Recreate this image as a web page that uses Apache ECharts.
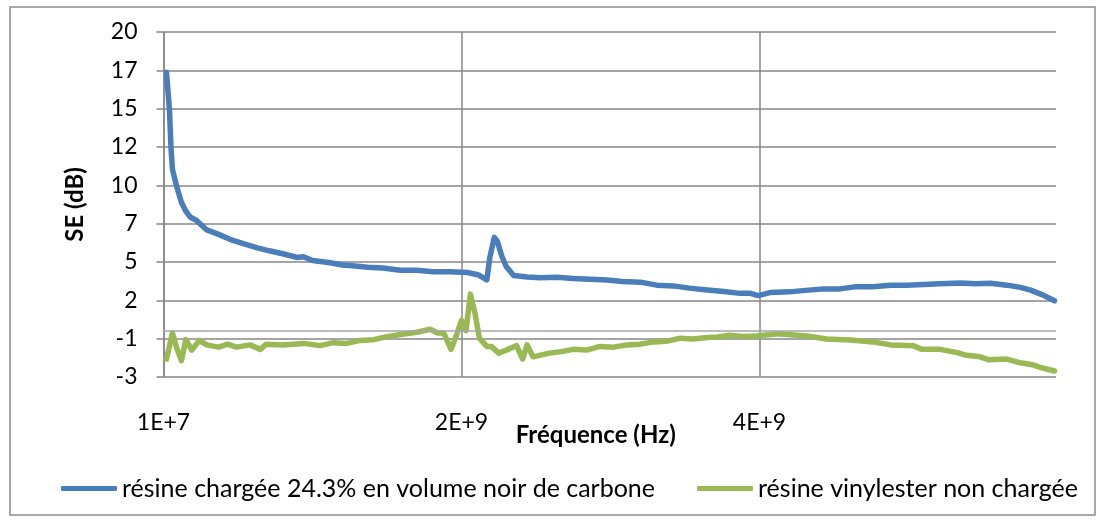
<!DOCTYPE html>
<html>
<head>
<meta charset="utf-8">
<script src="https://cdn.jsdelivr.net/npm/echarts@6/dist/echarts.min.js"></script>
<style>
  html, body { margin: 0; padding: 0; background: #fff; }
  #chart { width: 1105px; height: 523px; }
</style>
</head>
<body>
<div id="chart"></div>
<script>
// frequencies in GHz, SE in dB
var blueGHz = [0.03, 0.05, 0.06, 0.07, 0.10, 0.13, 0.16, 0.19, 0.23, 0.30, 0.38, 0.46, 0.54, 0.64, 0.72, 0.81,
  0.91, 0.95, 1.01, 1.13, 1.21, 1.28, 1.38, 1.48, 1.60, 1.71, 1.82, 1.93, 2.05, 2.12, 2.18, 2.20, 2.23, 2.25,
  2.28, 2.31, 2.36, 2.45, 2.54, 2.65, 2.76, 2.87, 2.99, 3.09, 3.21, 3.32, 3.43, 3.54, 3.66, 3.77, 3.88, 3.95,
  4.00, 4.08, 4.21, 4.32, 4.44, 4.55, 4.66, 4.77, 4.89, 5.00, 5.11, 5.22, 5.36, 5.46, 5.56, 5.67, 5.76, 5.83,
  5.91, 5.99];
var blueSE = [17.3, 14.8, 12.3, 10.8, 9.6, 8.6, 8.0, 7.6, 7.4, 6.75, 6.45, 6.1, 5.85, 5.55, 5.35, 5.15,
  4.9, 4.95, 4.7, 4.55, 4.4, 4.35, 4.25, 4.2, 4.05, 4.05, 3.95, 3.95, 3.9, 3.75, 3.4, 4.9, 6.25, 6.0,
  5.0, 4.3, 3.7, 3.6, 3.55, 3.58, 3.5, 3.45, 3.4, 3.3, 3.25, 3.05, 3.0, 2.85, 2.72, 2.62, 2.5, 2.5,
  2.35, 2.55, 2.6, 2.7, 2.8, 2.8, 2.95, 2.95, 3.05, 3.05, 3.1, 3.15, 3.2, 3.15, 3.17, 3.05, 2.9, 2.72,
  2.4, 2.0];

var greenGHz = [0.03, 0.07, 0.10, 0.13, 0.16, 0.20, 0.25, 0.30, 0.38, 0.44, 0.50, 0.59, 0.66, 0.70, 0.81, 0.95,
  1.06, 1.15, 1.24, 1.33, 1.42, 1.51, 1.60, 1.71, 1.80, 1.85, 1.89, 1.94, 1.98, 2.01, 2.04, 2.07, 2.10, 2.13,
  2.18, 2.21, 2.26, 2.31, 2.38, 2.42, 2.45, 2.49, 2.60, 2.68, 2.76, 2.85, 2.94, 3.03, 3.12, 3.21, 3.30, 3.39,
  3.48, 3.56, 3.66, 3.73, 3.81, 3.90, 3.99, 4.13, 4.33, 4.46, 4.62, 4.77, 4.89, 5.04, 5.10, 5.22, 5.33, 5.40,
  5.49, 5.55, 5.67, 5.76, 5.85, 5.91, 5.99];
var greenSE = [-1.9, -0.15, -1.2, -2.0, -0.6, -1.3, -0.65, -0.95, -1.1, -0.9, -1.1, -0.95, -1.25, -0.9, -0.95, -0.85,
  -1.0, -0.8, -0.85, -0.65, -0.6, -0.4, -0.25, -0.1, 0.1, -0.15, -0.15, -1.25, -0.2, 0.7, 0.0, 2.45, 1.2, -0.5,
  -1.05, -1.05, -1.5, -1.3, -1.0, -1.9, -0.95, -1.75, -1.5, -1.4, -1.25, -1.3, -1.05, -1.1, -0.95, -0.9, -0.75, -0.7,
  -0.5, -0.55, -0.45, -0.42, -0.3, -0.38, -0.35, -0.2, -0.35, -0.55, -0.62, -0.75, -0.95, -1.0, -1.25, -1.25, -1.45, -1.65,
  -1.75, -1.95, -1.9, -2.15, -2.3, -2.5, -2.7];

var seriesNames = ['résine chargée 24.3% en volume noir de carbone', 'résine vinylester non chargée'];
var yTickLabels = ['-3', '-1', '2', '5', '7', '10', '12', '15', '17', '20'];
var xTickLabels = ['1E+7', '2E+9', '4E+9'];

function pairs(ghz, vals) {
  return ghz.map(function (g, i) { return [g * 1e9, vals[i]]; });
}

var font = 'Lato, "Open Sans", sans-serif';
var gridColor = '#878787';

var chart = echarts.init(document.getElementById('chart'));
var option = {
  animation: false,
  backgroundColor: '#fff',
  color: ['#4a7ebb', '#98b954'],
  textStyle: { fontFamily: font },
  graphic: [{
    type: 'rect',
    shape: { x: 10, y: 7, width: 1085, height: 508 },
    style: { fill: 'none', stroke: '#8c8c8c', lineWidth: 1.5 },
    silent: true
  }],
  legend: {
    left: 56,
    top: 471,
    itemWidth: 56,
    itemHeight: 5,
    itemGap: 42,
    icon: 'roundRect',
    textStyle: { fontFamily: font, fontSize: 25, color: '#000' },
    data: seriesNames
  },
  grid: { left: 163.5, right: 49, top: 32, bottom: 146, containLabel: false },
  xAxis: {
    type: 'value',
    min: 1e7,
    max: 6e9,
    interval: 2e9,
    name: 'Fréquence (Hz)',
    nameLocation: 'middle',
    nameGap: 46,
    nameMoveOverlap: false,
    nameTextStyle: { fontFamily: font, fontSize: 24, fontWeight: 'bold', color: '#000', padding: [0, 28, 0, 0] },
    axisLine: { show: false, onZero: false },
    axisTick: { show: false },
    axisLabel: {
      margin: 34,
      fontFamily: font, fontSize: 23, color: '#000',
      formatter: function (v, i) { return i < xTickLabels.length ? xTickLabels[i] : ''; }
    },
    splitLine: { show: true, showMaxLine: false, lineStyle: { color: gridColor, width: 1.5 } }
  },
  yAxis: {
    type: 'value',
    min: -3.1,
    max: 20,
    interval: 23.1 / 9,
    name: 'SE (dB)',
    nameLocation: 'middle',
    nameRotate: 90,
    nameGap: 76,
    nameTextStyle: { fontFamily: font, fontSize: 24, fontWeight: 'bold', color: '#000' },
    axisLine: { show: true, lineStyle: { color: gridColor, width: 1.5 } },
    axisTick: { show: true, inside: false, length: 7, lineStyle: { color: gridColor, width: 1.5 } },
    axisLabel: {
      margin: 26,
      fontFamily: font, fontSize: 23, color: '#000',
      formatter: function (v, i) { return yTickLabels[i] !== undefined ? yTickLabels[i] : ''; }
    },
    splitLine: { show: true, lineStyle: { color: gridColor, width: 1.5 } }
  },
  series: [{
    name: seriesNames[0],
    type: 'line',
    data: pairs(blueGHz, blueSE),
    showSymbol: false,
    symbol: 'none',
    lineStyle: { width: 5.5, cap: 'round', join: 'round' },
    markLine: {
      silent: true,
      symbol: 'none',
      label: { show: false },
      lineStyle: { color: '#a6a6a6', width: 1.5, type: 'solid' },
      data: [{ yAxis: 0 }]
    },
    z: 3
  }, {
    name: seriesNames[1],
    type: 'line',
    data: pairs(greenGHz, greenSE),
    showSymbol: false,
    symbol: 'none',
    lineStyle: { width: 5.5, cap: 'round', join: 'round' },
    z: 2
  }]
};
chart.setOption(option);
</script>
</body>
</html>
